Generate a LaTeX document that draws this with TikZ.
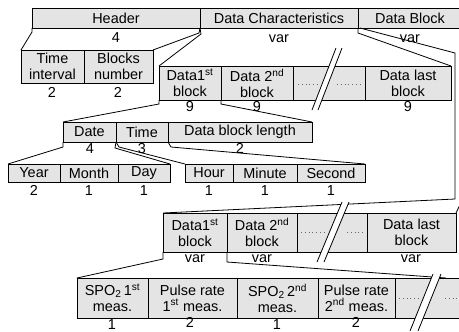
\documentclass[tikz,border=0pt]{standalone}
\usepackage{fontspec}
\setmainfont{Liberation Sans}
\definecolor{boxfill}{RGB}{228,228,228}
\newcommand\diafont{\fontsize{14.5}{16}\selectfont}
\newcommand\cellbox[6]{\node[bx, minimum width=#4bp, minimum height=#5bp] (#1) at (#2,#3) {#6};}
\tikzset{
 bx/.style={draw, fill=boxfill, line width=0.8bp, inner sep=0pt, outer sep=0pt, anchor=north west, align=center, font=\diafont},
 lbl/.style={inner sep=0pt, anchor=base, font=\diafont},
 conn/.style={line width=0.8bp},
 brk/.style={fill=white, draw=none},
 brkline/.style={line width=0.8bp},
 dotrow/.style={line width=1bp, dash pattern=on 0.8bp off 3bp, draw=black!60}
}
\begin{document}
\begin{tikzpicture}[x=1bp,y=-1bp]
\useasboundingbox (0,0) rectangle (459,331);
\clip (0,0) rectangle (459,331);
% row 1
\cellbox{hdr}{32}{8}{168}{20}{Header}
\cellbox{dc}{200}{8}{158}{20}{Data Characteristics}
\cellbox{db}{358}{8}{104}{20}{Data Block}
\node[lbl] (l1a) at (116,42) {4};
\node[lbl] (l1b) at (279,42) {var};
\node[lbl] (l1c) at (410,42) {var};
% row 2
\cellbox{ti}{21}{50}{63}{33}{Time\\interval}
\cellbox{bn}{84}{50}{69}{33}{Blocks\\number}
\node[lbl] (l2a) at (52,97) {2};
\node[lbl] (l2b) at (118,97) {2};
% row 3
\cellbox{d1}{159}{66}{62}{34}{Data1\textsuperscript{st}\\block}
\cellbox{d2}{221}{66}{72}{34}{Data 2\textsuperscript{nd}\\block}
\cellbox{dd}{293}{66}{72}{34}{}
\cellbox{dl}{365}{66}{86}{34}{Data last\\block}
\node[lbl] (l3a) at (190,111) {9};
\node[lbl] (l3b) at (257,111) {9};
\node[lbl] (l3c) at (408,111) {9};
% row 4
\cellbox{date}{63}{122}{53}{20}{Date}
\cellbox{time}{116}{122}{52}{20}{Time}
\cellbox{len}{168}{122}{144}{20}{Data block length}
\node[lbl] (l4a) at (90,153) {4};
\node[lbl] (l4b) at (142,153) {3};
\node[lbl] (l4c) at (240,153) {2};
% row 5
\cellbox{year}{8}{164}{52}{18}{Year}
\cellbox{month}{60}{164}{58}{18}{Month}
\cellbox{day}{118}{164}{52}{18}{Day}
\cellbox{hour}{185}{164}{48}{18}{Hour}
\cellbox{minute}{233}{164}{64}{18}{Minute}
\cellbox{second}{297}{164}{68}{18}{Second}
\node[lbl] (l5a) at (34,195) {2};
\node[lbl] (l5b) at (89,195) {1};
\node[lbl] (l5c) at (144,195) {1};
\node[lbl] (l5d) at (209,195) {1};
\node[lbl] (l5e) at (265,195) {1};
\node[lbl] (l5f) at (331,195) {1};
% lower row
\cellbox{e1}{163}{213}{64}{39}{Data1\textsuperscript{st}\\block}
\cellbox{e2}{227}{213}{70}{39}{Data 2\textsuperscript{nd}\\block}
\cellbox{ed}{297}{213}{70}{39}{}
\cellbox{el}{367}{213}{89}{39}{Data last\\block}
\node[lbl] (l6a) at (195,262) {var};
\node[lbl] (l6b) at (262,262) {var};
\node[lbl] (l6c) at (411,262) {var};
% bottom row
\cellbox{sp1}{77}{278}{71}{40}{SPO\textsubscript{2}\,1\textsuperscript{st}\\meas.}
\cellbox{pr1}{148}{278}{89}{40}{Pulse rate\\1\textsuperscript{st} meas.}
\cellbox{sp2}{237}{278}{81}{40}{SPO\textsubscript{2}\,2\textsuperscript{nd}\\meas.}
\cellbox{pr2}{318}{278}{77}{40}{Pulse rate\\2\textsuperscript{nd} meas.}
\cellbox{bd}{395}{278}{80}{40}{}
\node[lbl] (l7a) at (112,329) {1};
\node[lbl] (l7b) at (190,327) {2};
\node[lbl] (l7c) at (277,329) {1};
\node[lbl] (l7d) at (356,327) {2};
% free ends
\coordinate (dbturn1) at (455,53);
\coordinate (dbturn2) at (455,199);
\coordinate (dbfar) at (545,28);
\coordinate (e1end) at (446,278);
% connectors
\draw[conn] (hdr.south west) -- ++(0,4) -- (ti.north west);
\draw[conn] (hdr.south east) -- ++(-1,5) -- (bn.north east);
\draw[conn] (dc.south west) -- ++(1,6) -- (d1.north west);
\draw[conn] (dc.south east) -- ++(0,5) -- (dl.north east);
\draw[conn] ([xshift=2bp]db.south west) -- (dbturn1) -- (dbturn2) -- (e1.north west);
\draw[conn] (dbfar) -- (el.north east);
\draw[conn] (d1.south west) -- ++(0,4) -- (date.north west);
\draw[conn] (d1.south east) -- ++(0,4) -- (len.north east);
\draw[conn] (date.south west) -- ++(0,5) -- (year.north west);
\draw[conn] (date.south east) -- ++(-1,6) -- (day.north east);
\draw[conn] (time.south west) -- ++(3,5) -- (hour.north west);
\draw[conn] (time.south east) -- ++(3,5) -- (second.north east);
\draw[conn] (e1.south west) -- ++(0,7) -- (sp1.north west);
\draw[conn] (e1.south east) -- ++(0,10) -- (e1end);
% dots
\draw[dotrow] (298,84) -- (318,84);
\draw[dotrow] (337,84) -- (362,84);
\draw[dotrow] (301,232) -- (324,232);
\draw[dotrow] (347,232) -- (365,232);
\draw[dotrow] (399,298) -- (420,298);
\draw[dotrow] (445,298) -- (459,298);
% breaks
\fill[brk] (312,110) -- (336,48) -- (342,48) -- (318,110) -- cycle;
\draw[brkline] (312,110) -- (336,48) (318,110) -- (342,48);
\fill[brk] (317,262) -- (342,202) -- (349,202) -- (324,262) -- cycle;
\draw[brkline] (317,262) -- (342,202) (324,262) -- (349,202);
\fill[brk] (410,331) -- (433,274) -- (441,274) -- (418,331) -- cycle;
\draw[brkline] (410,331) -- (433,274) (418,331) -- (441,274);
\end{tikzpicture}
\end{document}
